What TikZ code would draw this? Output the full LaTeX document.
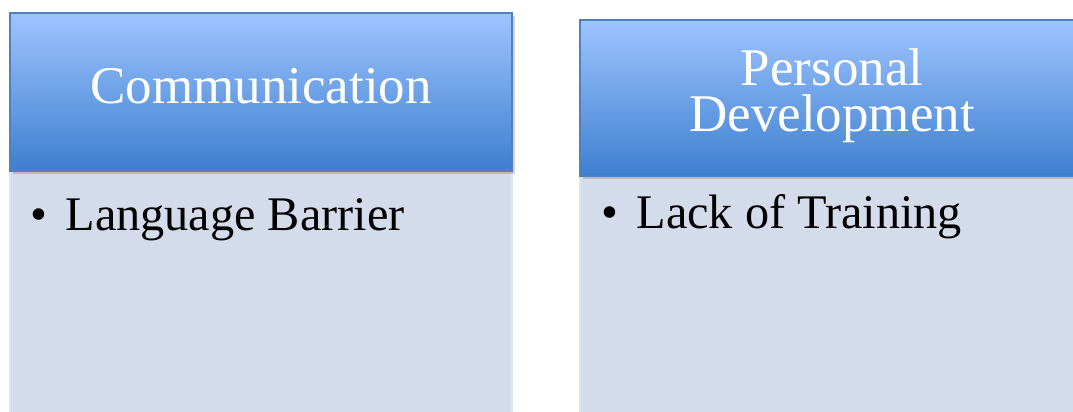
\documentclass[tikz,border=0pt]{standalone}
\usepackage{fontspec}
\setmainfont{Liberation Serif}
\usepackage{xcolor}
\usepackage{tikz}
\usetikzlibrary{shadows}

\definecolor{headtop}{RGB}{158,196,255}
\definecolor{headbot}{RGB}{62,127,207}
\definecolor{headline}{RGB}{80,128,190}
\definecolor{bodyfill}{RGB}{212,219,234}
\definecolor{bodyline}{RGB}{222,228,240}

\tikzset{
    header/.style={draw=headline, line width=1.1pt, top color=headtop, bottom color=headbot,
        drop shadow={shadow xshift=2.2pt, shadow yshift=-2.2pt, opacity=0.35},
        inner sep=0pt},
    bodybox/.style={draw=bodyline, line width=0.8pt, fill=bodyfill, inner sep=0pt},
    headtext/.style={text=white, inner sep=0pt, font=\fontsize{39.75}{34.5}\selectfont},
    itemtext/.style={text=black, inner sep=0pt, anchor=base west, font=\fontsize{36.2}{40}\selectfont}
}

\begin{document}
\begin{tikzpicture}[x=0.75pt, y=-0.75pt]
        \useasboundingbox (0,0) rectangle (1073,411);
        \clip (0,0) rectangle (1073,411);

        % bodies
        \node[bodybox, minimum width=376.5pt, minimum height=186.75pt] (combody) at (261,295.5) {};
        \node[bodybox, minimum width=378pt, minimum height=183pt] (devbody) at (832,298) {};

        % headers
        \node[header, minimum width=376.5pt, minimum height=118.5pt] (comhead) at (261,92) {};
        \node[header, minimum width=378pt, minimum height=117pt] (devhead) at (832,98) {};

        \node[headtext, anchor=base] (comtitle) at (261,103) {Communication};
        \node[headtext, anchor=base, align=center] (devtitle) at (832,131) {Personal\\Development};

        \node[itemtext] (comitem) at (30,230) {\makebox[26.5pt][l]{\textbullet}Language Barrier};
        \node[itemtext] (devitem) at (601,228) {\makebox[26.5pt][l]{\textbullet}Lack of Training};

    \end{tikzpicture}
\end{document}
